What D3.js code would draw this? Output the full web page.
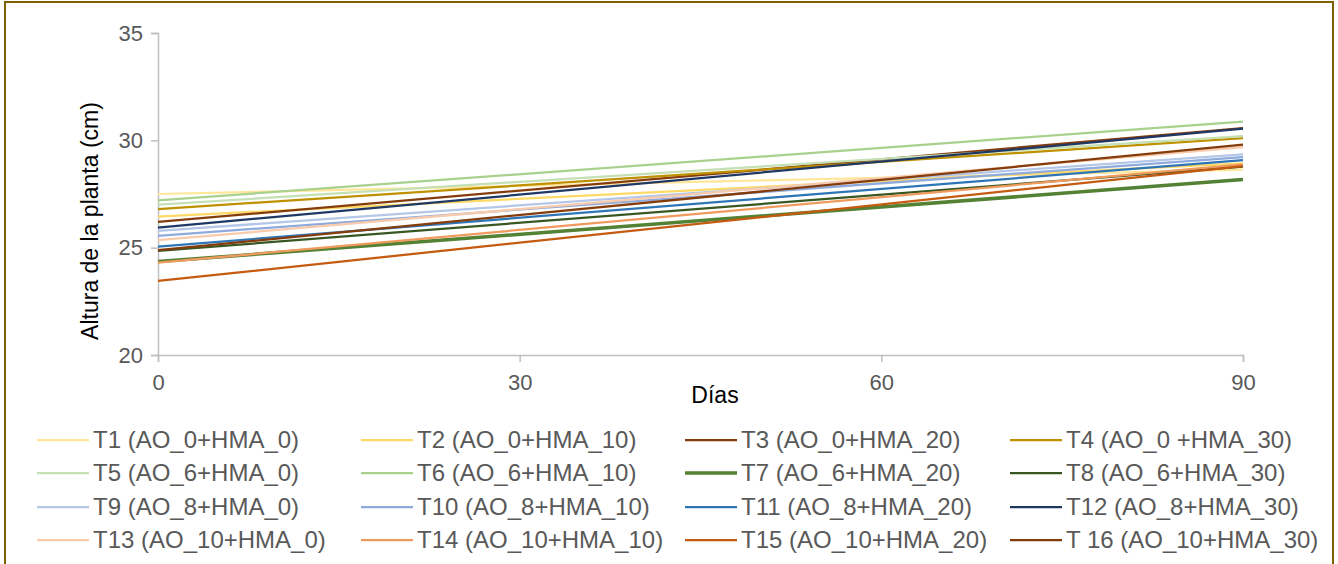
<!DOCTYPE html>
<html>
<head>
<meta charset="utf-8">
<script src="https://cdn.jsdelivr.net/npm/d3@7"></script>
<style>
  html, body { margin: 0; padding: 0; background: #fff; }
  #chart { width: 1338px; height: 564px; overflow: hidden; }
  text { font-family: "Liberation Sans", Arial, sans-serif; }
</style>
</head>
<body>
<div id="chart"></div>
<script>
// días medidos (extremos de cada recta)
const dias = [0, 90];
const xTicks = [0, 30, 60, 90];
const yTicks = [20, 25, 30, 35];

const tratamientos = [
  "T1 (AO_0+HMA_0)", "T2 (AO_0+HMA_10)", "T3 (AO_0+HMA_20)", "T4 (AO_0 +HMA_30)",
  "T5 (AO_6+HMA_0)", "T6 (AO_6+HMA_10)", "T7 (AO_6+HMA_20)", "T8 (AO_6+HMA_30)",
  "T9 (AO_8+HMA_0)", "T10 (AO_8+HMA_10)", "T11 (AO_8+HMA_20)", "T12 (AO_8+HMA_30)",
  "T13 (AO_10+HMA_0)", "T14 (AO_10+HMA_10)", "T15 (AO_10+HMA_20)", "T 16 (AO_10+HMA_30)"
];

// altura (cm) al día 0 y al día 90
const alturaInicial = [27.5, 26.45, 26.2, 26.8, 27.0, 27.2, 24.35, 24.85,
                       25.78, 25.55, 25.05, 25.93, 25.35, 24.3, 23.45, 24.88];
const alturaFinal   = [28.63, 28.93, 30.57, 30.1, 30.2, 30.87, 28.17, 28.78,
                       29.35, 29.22, 29.08, 30.55, 29.68, 28.88, 28.8, 29.8];

const colores = [
  "#FFE699", "#FFD966", "#843C0C", "#BF9000",
  "#C5E0B4", "#A9D18E", "#548235", "#385723",
  "#B4C7E7", "#8FAADC", "#2E75B6", "#203864",
  "#F8CBAD", "#F19A5E", "#C55A11", "#843C0C"
];

const width = 1338, height = 564;
const svg = d3.select("#chart").append("svg")
  .attr("width", width).attr("height", height);

// marco del gráfico
svg.append("rect")
  .attr("x", 5).attr("y", 2)
  .attr("width", 1328).attr("height", 620)
  .attr("fill", "none")
  .attr("stroke", "#7F6000")
  .attr("stroke-width", 2);

const x = d3.scaleLinear().domain([0, 90]).range([158, 1243]);
const y = d3.scaleLinear().domain([20, 35]).range([355, 33]);

const gx = svg.append("g").attr("transform", `translate(0,${y(20)})`)
  .call(d3.axisBottom(x).tickValues(xTicks).tickSize(7).tickPadding(12));
const gy = svg.append("g").attr("transform", `translate(${x(0)},0)`)
  .call(d3.axisLeft(y).tickValues(yTicks).tickSize(7).tickPadding(8));

[gx, gy].forEach((g) => {
  g.select(".domain").attr("stroke", "#bfbfbf").attr("stroke-width", 1.5);
  g.selectAll(".tick line").attr("stroke", "#bfbfbf").attr("stroke-width", 1.5);
  g.selectAll(".tick text")
    .attr("fill", "#595959")
    .style("font-size", "22px")
    .style("font-family", "'Liberation Sans', Arial, sans-serif");
});

svg.append("text")
  .attr("x", 715).attr("y", 403)
  .attr("text-anchor", "middle")
  .style("font-size", "23px")
  .attr("fill", "#000")
  .text("Días");

svg.append("text")
  .attr("transform", "translate(98,221) rotate(-90)")
  .attr("text-anchor", "middle")
  .style("font-size", "23px")
  .attr("fill", "#000")
  .text("Altura de la planta (cm)");

const series = tratamientos.map((name, i) => ({
  name,
  color: colores[i],
  width: i === 6 ? 3.5 : 2.25,
  values: [alturaInicial[i], alturaFinal[i]]
}));

const line = d3.line()
  .x((d, j) => x(dias[j]))
  .y((d) => y(d));

svg.append("g")
  .selectAll("path")
  .data(series)
  .join("path")
  .attr("d", (d) => line(d.values))
  .attr("fill", "none")
  .attr("stroke", (d) => d.color)
  .attr("stroke-width", (d) => d.width);

// leyenda: 4 columnas
const colX = [37, 361, 685, 1010];
const rowY = [440, 473, 507, 540];
const leg = svg.append("g")
  .selectAll("g")
  .data(series)
  .join("g")
  .attr("transform", (d, i) => `translate(${colX[i % 4]},${rowY[Math.floor(i / 4)]})`);

leg.append("line")
  .attr("x1", 0).attr("x2", 52)
  .attr("stroke", (d) => d.color)
  .attr("stroke-width", (d) => d.width);

leg.append("text")
  .attr("x", 56).attr("dy", "0.35em")
  .attr("fill", "#595959")
  .style("font-size", "24px")
  .text((d) => d.name);
</script>
</body>
</html>
